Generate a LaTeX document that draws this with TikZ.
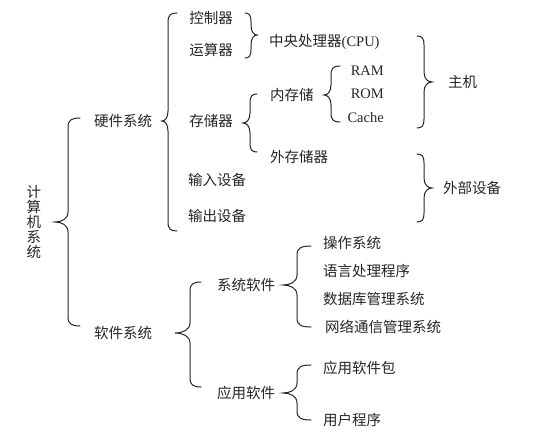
\documentclass[tikz,border=0pt]{standalone}
\usepackage{fontspec}
\setmainfont{Liberation Serif}
\newfontfamily\cjk{Noto Sans CJK SC}
\tikzset{
  lbl/.style={inner sep=0pt, font=\fontsize{14.5}{15}\selectfont\cjk, text=black!85},
  lat/.style={inner sep=0pt, font=\fontsize{14.5}{16}\selectfont, text=black!85},
  brc/.style={line width=1pt, black!85, line cap=round}
}
% #1 x of vertical, #2 tip x, #3 end x, #4 ytop, #5 ymid, #6 ybot
\newcommand\mybrace[6]{%
  \draw[brc] (#3,#4) .. controls ({#1+0.3*(#3-#1)},#4) and (#1,#4+2) .. (#1,#4+9) -- (#1,#5-10)
    .. controls (#1,#5-3) and ({#1+0.5*(#2-#1)},#5) .. (#2,#5)
    .. controls ({#1+0.5*(#2-#1)},#5) and (#1,#5+3) .. (#1,#5+10)
    -- (#1,#6-9) .. controls (#1,#6-2) and ({#1+0.3*(#3-#1)},#6) .. (#3,#6);}
\begin{document}
\begin{tikzpicture}[x=1pt,y=-1pt]
\useasboundingbox[fill=white] (0,0) rectangle (541,441);
% root
\node[lbl, align=center] (root) at (34,222) {计\\算\\机\\系\\统};
\mybrace{68}{55}{80}{118}{222}{326}
% level 1
\node[lbl] (hw) at (123,121) {硬件系统};
\node[lbl] (sw) at (123,333) {软件系统};
% hardware
\mybrace{168}{162}{177}{13}{121}{231}
\node[lbl] (ctl) at (211,18) {控制器};
\node[lbl] (alu) at (211,50) {运算器};
\node[lbl] (mem) at (211,121) {存储器};
\node[lbl, anchor=west] (in) at (188,180) {输入设备};
\node[lbl, anchor=west] (out) at (188,216) {输出设备};
\mybrace{251}{257}{245}{13}{35}{58}
\node[lat, anchor=west] (cpu) at (269,42) {{\cjk\fontsize{14.5}{15}\selectfont 中央处理器}(CPU)};
\mybrace{250}{243}{257}{94}{123}{152}
\node[lbl, anchor=west] (inmem) at (270,95) {内存储};
\node[lbl, anchor=west] (exmem) at (270,157) {外存储器};
\mybrace{331}{324}{340}{66}{95}{122}
\node[lat, anchor=east] (ram) at (384,71) {RAM};
\node[lat, anchor=east] (rom) at (384,94) {ROM};
\node[lat, anchor=east] (cache) at (384,118) {Cache};
\mybrace{424}{432}{417}{36}{82}{128}
\node[lbl, anchor=west] (host) at (448,82) {主机};
\mybrace{424}{432}{417}{154}{188}{222}
\node[lbl, anchor=west] (periph) at (443,188) {外部设备};
% software
\mybrace{190}{175}{201}{282}{333}{387}
\node[lbl] (syssw) at (246,285) {系统软件};
\node[lbl] (appsw) at (246,393) {应用软件};
\mybrace{297}{283}{311}{246}{285}{327}
\node[lbl, anchor=west] (os) at (323,243) {操作系统};
\node[lbl, anchor=west] (lang) at (323,271) {语言处理程序};
\node[lbl, anchor=west] (db) at (323,299) {数据库管理系统};
\node[lbl, anchor=west] (net) at (325,327) {网络通信管理系统};
\mybrace{297}{283}{311}{365}{393}{420}
\node[lbl, anchor=west] (pkg) at (323,368) {应用软件包};
\node[lbl, anchor=west] (user) at (323,420) {用户程序};
\end{tikzpicture}
\end{document}
